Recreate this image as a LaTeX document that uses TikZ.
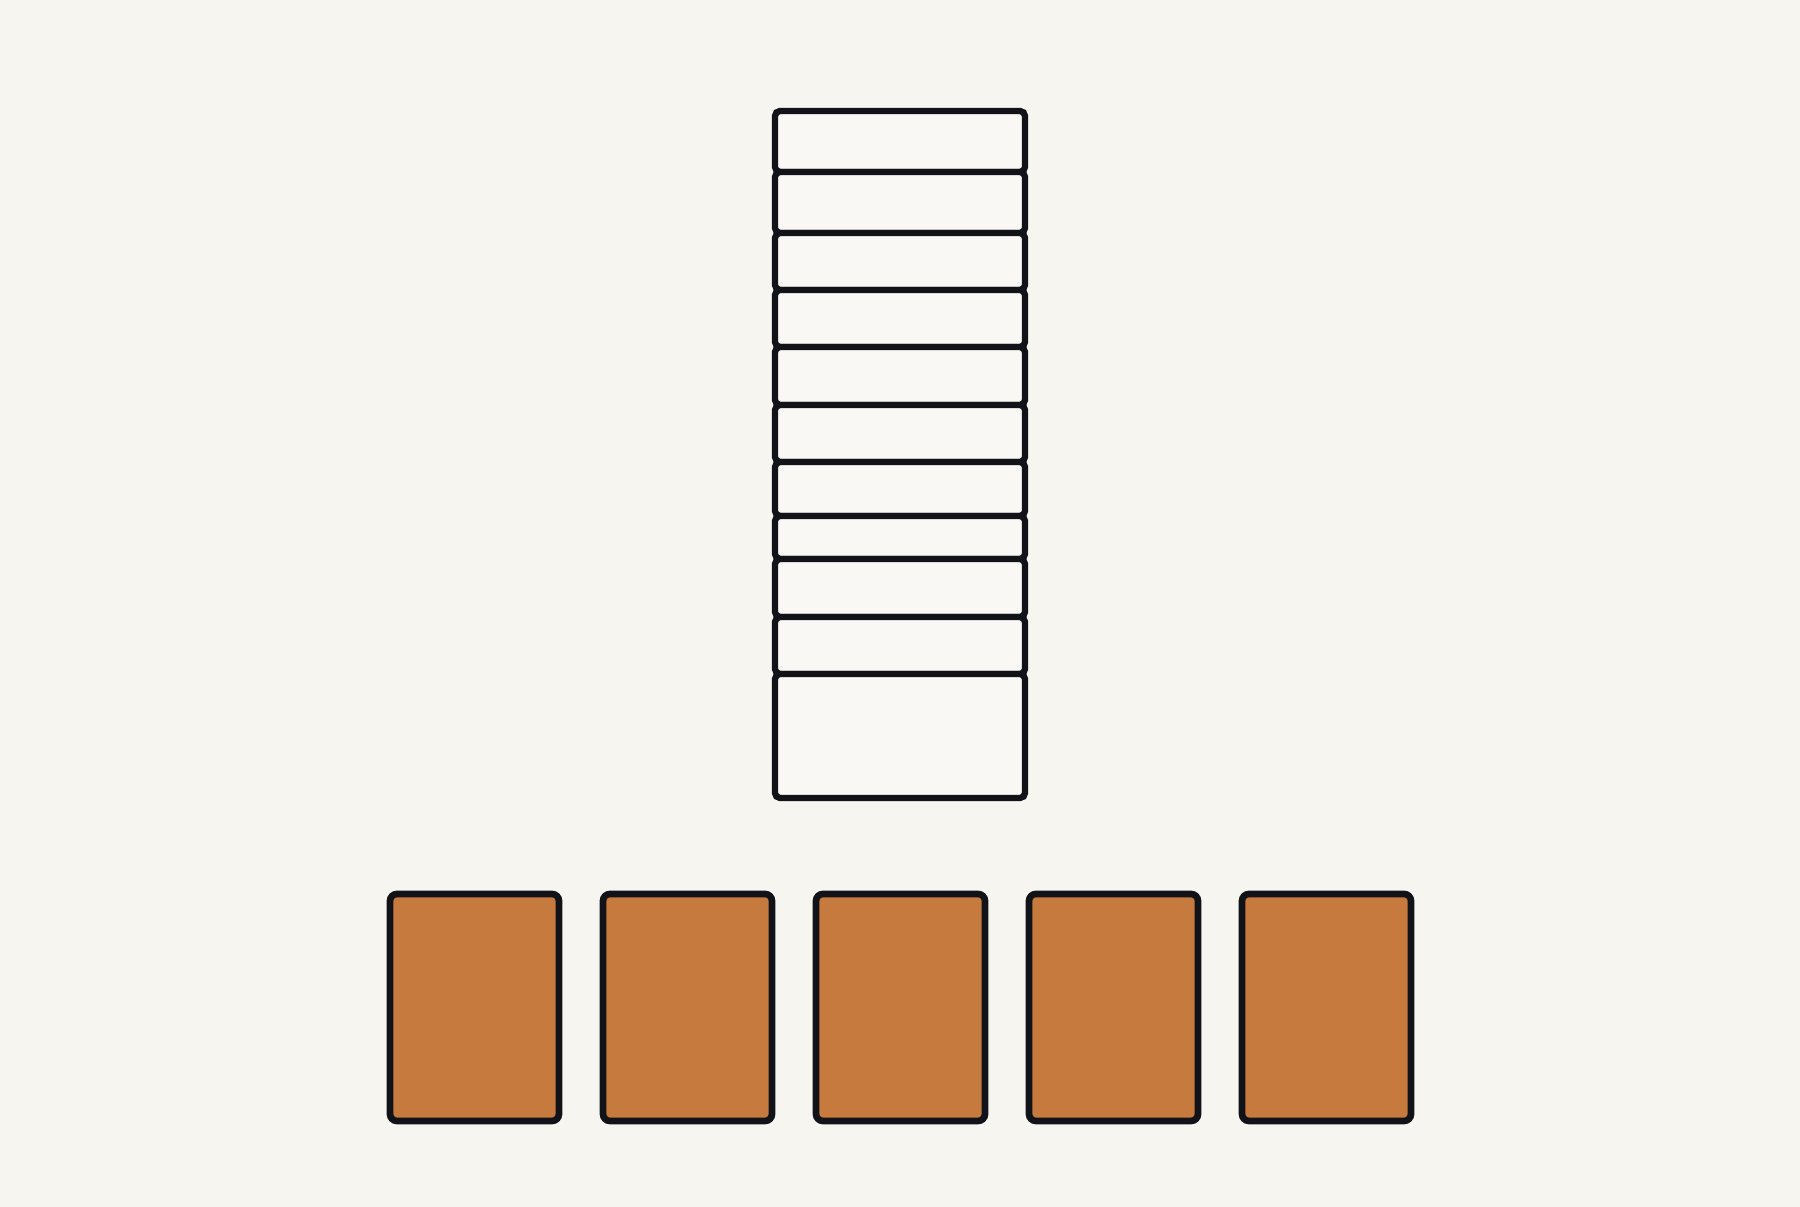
\documentclass[tikz,border=0pt]{standalone}
\usepackage{tikz}
\definecolor{paper}{HTML}{F6F5F0}
\definecolor{binorange}{HTML}{C77A3E}
\definecolor{inkline}{HTML}{111318}
\tikzset{
	slicebox/.style={draw=inkline, fill=white!30!paper, line width=1.8pt, rounded corners=0.05cm, inner sep=0pt, minimum width=2.5cm},
	binbox/.style={draw=inkline, fill=binorange, line width=1.9pt, rounded corners=0.07cm, inner sep=0pt, minimum width=1.69cm, minimum height=2.27cm}
}

\begin{document}
\begin{tikzpicture}
		%%%%% START %%%%%
		
		\fill[paper] (0, 0) rectangle (18, 12.07);
		\useasboundingbox (0, 0) rectangle (18, 12.07);
		
		% stack of slices
		\foreach \top/\bot [count=\i] in {10.96/10.35, 10.35/9.74, 9.74/9.17, 9.17/8.60, 8.60/8.02, 8.02/7.45, 7.45/6.91, 6.91/6.48, 6.48/5.90, 5.90/5.33, 5.33/4.09}
			\node[slicebox, minimum height={(\top-\bot)*1cm}] (slice\i) at (9, {(\top+\bot)/2}) {};
		
		% row of bins
		\foreach \i in {1,...,5}
			\node[binbox] (bin\i) at ({4.745+2.13*(\i-1)}, 1.995) {};
		
		%%%%% END %%%%%
	\end{tikzpicture}
\end{document}
